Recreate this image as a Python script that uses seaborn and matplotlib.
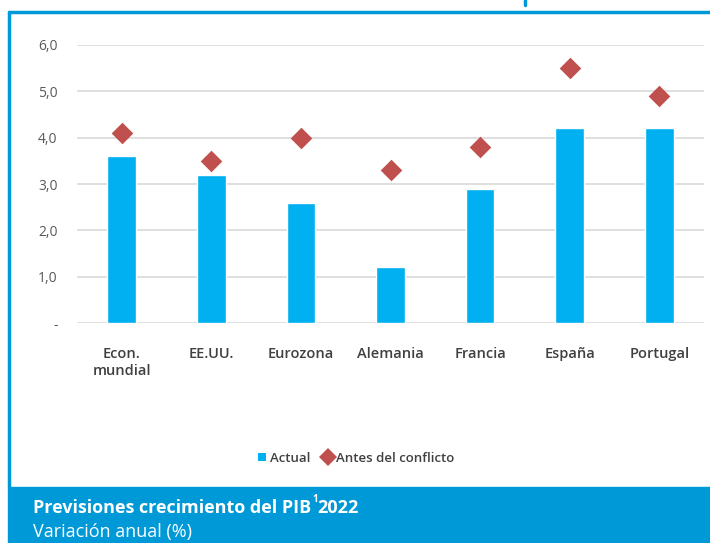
import pandas as pd
import matplotlib.pyplot as plt
import seaborn as sns
from matplotlib.lines import Line2D
from matplotlib.patches import Rectangle

# data
paises = ["Econ.\nmundial", "EE.UU.", "Eurozona", "Alemania", "Francia", "España", "Portugal"]
actual = [3.6, 3.2, 2.6, 1.2, 2.9, 4.2, 4.2]
antes_conflicto = [4.1, 3.5, 4.0, 3.3, 3.8, 5.5, 4.9]
yticks = [0, 1, 2, 3, 4, 5, 6]
ytick_labels = ["-", "1,0", "2,0", "3,0", "4,0", "5,0", "6,0"]

titulo = "Previsiones crecimiento del PIB"
subtitulo = "Variación anual (%)"

BLUE_BAR = "#00B0F0"
RED = "#C0504D"
BAND = "#0099D8"

sns.set_theme(style="white")
plt.rcParams['font.family'] = ['Open Sans', 'DejaVu Sans']

df = pd.DataFrame({"pais": paises, "actual": actual, "antes": antes_conflicto})

fig = plt.figure(figsize=(7.1, 5.43), dpi=100)
ax = fig.add_axes([77 / 710, (543 - 323) / 543, (704 - 77) / 710, (323 - 45) / 543])

sns.barplot(data=df, x="pais", y="actual", color=BLUE_BAR, width=0.32,
            saturation=1, ax=ax, zorder=2)
sns.stripplot(data=df, x="pais", y="antes", color=RED, marker="D", size=11,
              jitter=False, linewidth=0, ax=ax, zorder=3)

ax.set_ylim(0, 6)
ax.set_xlim(-0.5, len(paises) - 0.5)
ax.set_yticks(yticks)
ax.set_yticklabels(ytick_labels)
ax.yaxis.grid(True, color="#D9D9D9", linewidth=1.2, zorder=0)
ax.set_axisbelow(True)
for s in ax.spines.values():
    s.set_visible(False)
ax.set_xlabel("")
ax.set_ylabel("")
ax.tick_params(axis="y", length=0, pad=14, labelsize=10, labelcolor="#595959")
ax.tick_params(axis="x", length=0, pad=17, labelsize=10.5, labelcolor="#404040")
for lbl in ax.get_xticklabels():
    lbl.set_fontweight("semibold")
    lbl.set_linespacing(1.35)

handles = [
    Line2D([], [], marker="s", color="none", markerfacecolor=BLUE_BAR, markeredgewidth=0, markersize=6),
    Line2D([], [], marker="D", color="none", markerfacecolor=RED, markeredgewidth=0, markersize=9),
]
leg = fig.legend(handles, ["Actual", "Antes del conflicto"], loc="center",
                 bbox_to_anchor=(355 / 710, 1 - 458 / 543), ncol=2, frameon=False,
                 fontsize=9.5, handletextpad=0.1, columnspacing=0.8, handlelength=1.0,
                 labelcolor="#404040")
for txt in leg.get_texts():
    txt.set_fontweight("semibold")

# frame lines and title band
fig.add_artist(Line2D([9 / 710, 9 / 710], [1 - 487 / 543, 1 - 12 / 543], color=BAND, linewidth=2.5))
fig.add_artist(Line2D([9 / 710, 1], [1 - 12 / 543, 1 - 12 / 543], color=BAND, linewidth=2.5))
fig.add_artist(Line2D([525 / 710, 525 / 710], [1 - 5 / 543, 1], color=BAND, linewidth=2.5))
fig.add_artist(Rectangle((8 / 710, 0), 1, 56 / 543, color=BAND, transform=fig.transFigure, zorder=0))

t = fig.text(33 / 710, 1 - 508 / 543, titulo, color="white", fontsize=13,
             fontweight="bold", va="center", ha="left")
fig.canvas.draw()
bb = t.get_window_extent(fig.canvas.get_renderer())
x_end = bb.x1 / 710
fig.text(x_end + 1 / 710, 1 - 500 / 543, "1", color="white", fontsize=7, fontweight="bold", va="center")
fig.text(x_end + 6 / 710, 1 - 508 / 543, "2022", color="white", fontsize=13,
         fontweight="bold", va="center", ha="left")
fig.text(33 / 710, 1 - 532 / 543, subtitulo, color="white", fontsize=13, va="center", ha="left")

fig.savefig("out.png", dpi=100)
plt.close(fig)
